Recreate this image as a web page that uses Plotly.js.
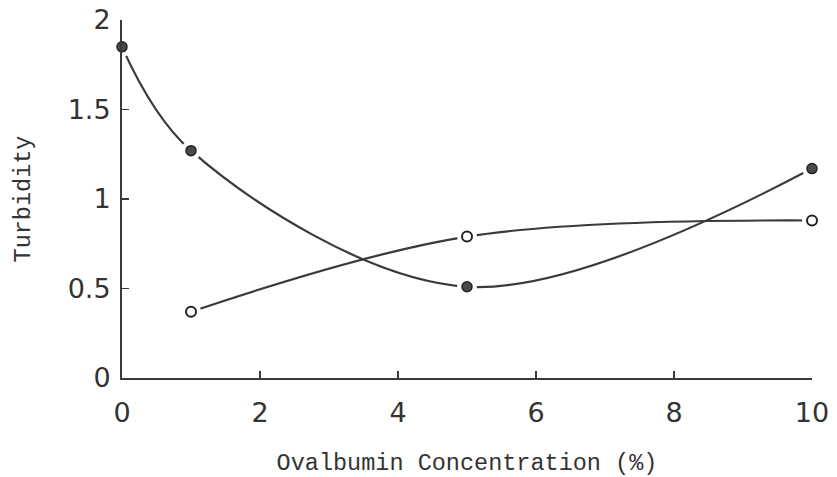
<!DOCTYPE html>
<html><head><meta charset="utf-8">
<script src="https://cdn.plot.ly/plotly-3.0.1.min.js"></script>
<style>html,body{margin:0;padding:0;background:#fff}</style>
</head><body>
<div id="chart" style="width:837px;height:477px"></div>
<script>
const filledX = [0, 1, 5, 10];
const filledY = [1.85, 1.27, 0.51, 1.17];
const openX = [1, 5, 10];
const openY = [0.37, 0.79, 0.88];
const xTicks = [0, 2, 4, 6, 8, 10];
const xTickText = ['0', '2', '4', '6', '8', '10'];
const yTicks = [0, 0.5, 1, 1.5, 2];
const yTickText = ['0', '0.5', '1', '1.5', '2'];

const ink = '#3a3a3a';
const lineStyle = {color: ink, width: 2.2, shape: 'spline', smoothing: 1};

const traces = [
  {x: filledX, y: filledY, mode: 'lines', line: lineStyle, hoverinfo: 'skip', cliponaxis: false},
  {x: openX, y: openY, mode: 'lines', line: lineStyle, hoverinfo: 'skip', cliponaxis: false},
  {x: filledX, y: filledY, mode: 'markers', marker: {size: 20, color: '#fff'}, cliponaxis: false, hoverinfo: 'skip'},
  {x: openX, y: openY, mode: 'markers', marker: {size: 20, color: '#fff'}, cliponaxis: false, hoverinfo: 'skip'},
  {x: filledX, y: filledY, mode: 'markers', marker: {size: 10, color: '#4a4a4a', line: {color: '#222', width: 1.5}}, cliponaxis: false},
  {x: openX, y: openY, mode: 'markers', marker: {size: 10, color: '#fff', line: {color: '#222', width: 2}}, cliponaxis: false}
];

const layout = {
  width: 837, height: 477,
  margin: {l: 122, r: 25, t: 20, b: 99},
  paper_bgcolor: '#fff', plot_bgcolor: '#fff',
  showlegend: false,
  xaxis: {
    range: [0, 10], tickvals: xTicks, ticktext: xTickText,
    showgrid: false, zeroline: false, showline: true, linecolor: ink, linewidth: 2,
    ticks: 'inside', ticklen: 7, tickwidth: 1.5, tickcolor: ink,
    ticklabelstandoff: 10,
    tickfont: {family: 'DejaVu Sans', size: 27, color: '#333'},
    title: {text: 'Ovalbumin Concentration (%)', standoff: 26,
            font: {family: 'Liberation Mono', size: 23.5, color: '#333'}}
  },
  yaxis: {
    range: [0, 2], tickvals: yTicks, ticktext: yTickText,
    showgrid: false, zeroline: false, showline: true, linecolor: ink, linewidth: 2,
    ticks: 'inside', ticklen: 7, tickwidth: 1.5, tickcolor: ink,
    ticklabelstandoff: 4,
    tickfont: {family: 'DejaVu Sans', size: 27, color: '#333'},
    title: {text: 'Turbidity', standoff: 30,
            font: {family: 'Liberation Mono', size: 23.5, color: '#333'}}
  }
};

Plotly.newPlot('chart', traces, layout, {displayModeBar: false, staticPlot: true});
</script>
</body></html>
